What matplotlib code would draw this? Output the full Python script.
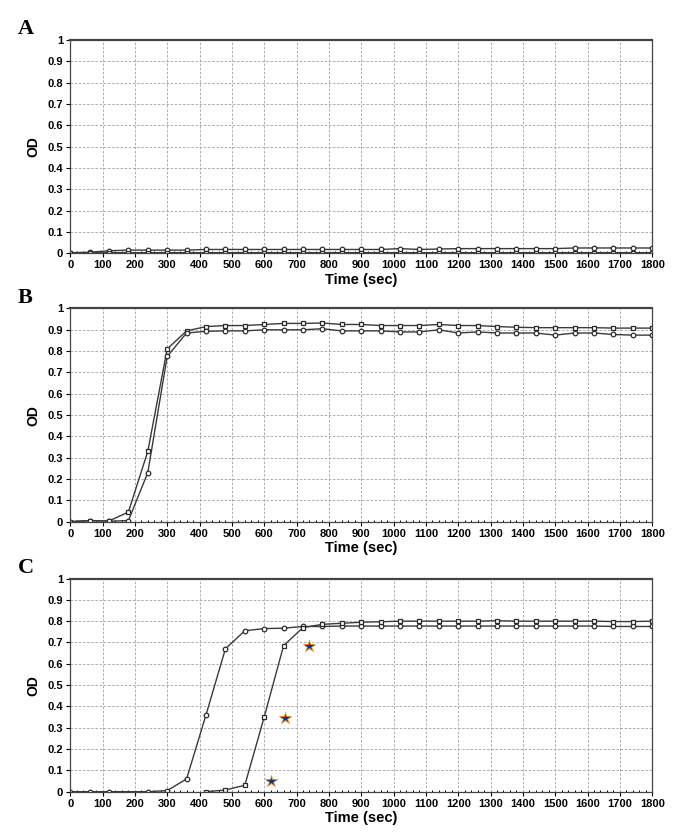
import matplotlib
matplotlib.use("Agg")
import matplotlib.pyplot as plt
from matplotlib.ticker import MultipleLocator
import numpy as np

t = list(range(0, 1801, 60))

# panel A - no growth
a_top = [0.003, 0.005, 0.012, 0.015, 0.015, 0.015, 0.015, 0.018, 0.018, 0.018, 0.018,
         0.018, 0.018, 0.018, 0.018, 0.018, 0.018, 0.022, 0.018, 0.02, 0.022, 0.022,
         0.022, 0.022, 0.022, 0.022, 0.025, 0.025, 0.025, 0.025, 0.025]
a_low = [0.0, 0.002, 0.003, 0.003, 0.003, 0.003, 0.003, 0.003, 0.003, 0.003, 0.003,
         0.003, 0.003, 0.003, 0.003, 0.003, 0.003, 0.003, 0.003, 0.003, 0.003, 0.003,
         0.003, 0.003, 0.003, 0.003, 0.003, 0.003, 0.003, 0.003, 0.003]

# panel B
b_top = [0.0, 0.005, 0.003, 0.045, 0.33, 0.81, 0.895, 0.915, 0.92, 0.92, 0.925, 0.93,
         0.93, 0.932, 0.925, 0.925, 0.92, 0.92, 0.92, 0.925, 0.92, 0.92, 0.915, 0.912,
         0.91, 0.91, 0.91, 0.91, 0.908, 0.908, 0.908]
b_low = [0.0, 0.005, 0.002, 0.005, 0.23, 0.775, 0.885, 0.893, 0.895, 0.895, 0.9, 0.9,
         0.9, 0.905, 0.895, 0.895, 0.895, 0.89, 0.89, 0.9, 0.885, 0.89, 0.885, 0.885,
         0.885, 0.875, 0.885, 0.885, 0.878, 0.875, 0.875]

# panel C
c1_t = [0, 60, 120, 240, 300, 360, 420, 480, 540, 600, 660, 720, 780, 840, 900, 960,
        1020, 1080, 1140, 1200, 1260, 1320, 1380, 1440, 1500, 1560, 1620, 1680, 1740, 1800]
c1 = [0.0, 0.0, 0.0, 0.0, 0.005, 0.06, 0.36, 0.67, 0.755, 0.765, 0.767, 0.775, 0.775,
      0.777, 0.777, 0.777, 0.777, 0.777, 0.777, 0.777, 0.777, 0.777, 0.777, 0.777,
      0.777, 0.777, 0.777, 0.775, 0.775, 0.775]
c2_t = [420, 480, 540, 600, 660, 720, 780, 840, 900, 960, 1020, 1080, 1140, 1200,
        1260, 1320, 1380, 1440, 1500, 1560, 1620, 1680, 1740, 1800]
c2 = [0.0, 0.008, 0.03, 0.35, 0.685, 0.77, 0.785, 0.79, 0.795, 0.797, 0.8, 0.8, 0.8,
      0.8, 0.8, 0.802, 0.8, 0.8, 0.8, 0.8, 0.8, 0.798, 0.798, 0.8]
star_t = [620, 665, 740]
star_y = [0.05, 0.345, 0.685]

xticks = list(range(0, 1801, 100))
yticks = [round(0.1 * i, 1) for i in range(11)]
ylabels = ['0' if v == 0 else ('1' if v == 1 else f'{v:.1f}') for v in yticks]

fig = plt.figure(figsize=(6.88, 8.36), dpi=100)
ax_a = fig.add_axes([0.102, 0.697, 0.846, 0.255])
ax_b = fig.add_axes([0.102, 0.376, 0.846, 0.255])
ax_c = fig.add_axes([0.102, 0.053, 0.846, 0.255])

line_kw = dict(color='#3a3a3a', lw=1.0, markersize=3.3, markerfacecolor='white',
               markeredgecolor='#2a2a2a', markeredgewidth=0.9)

ax_a.plot(t, a_top, marker='o', **line_kw)
ax_a.plot(t, a_low, marker='s', **line_kw)
ax_b.plot(t, b_top, marker='s', **line_kw)
ax_b.plot(t, b_low, marker='o', **line_kw)
ax_c.plot(c1_t, c1, marker='o', **line_kw)
ax_c.plot(c2_t, c2, marker='s', **line_kw)
ax_c.plot(star_t, star_y, ls='none', marker='*', markersize=9,
          markerfacecolor='#1c2f7a', markeredgecolor='#e08a2c', markeredgewidth=0.6)

for ax, letter in zip([ax_a, ax_b, ax_c], ['A', 'B', 'C']):
    ax.set_xlim(0, 1800)
    ax.set_ylim(0, 1)
    ax.set_xticks(xticks)
    ax.set_yticks(yticks)
    ax.set_yticklabels(ylabels)
    ax.xaxis.set_minor_locator(MultipleLocator(20))
    ax.grid(True, color='#a0a0a0', ls=(0, (3, 2)), lw=0.6)
    ax.tick_params(direction='out', length=3, width=0.8, pad=2, labelsize=8)
    ax.tick_params(which='minor', direction='in', length=1.5, width=0.7)
    for lab in ax.get_xticklabels() + ax.get_yticklabels():
        lab.set_fontfamily('Liberation Sans')
        lab.set_fontweight('bold')
    for s in ax.spines.values():
        s.set_color('#444444')
        s.set_linewidth(0.9)
    ax.spines['top'].set_linewidth(1.6)
    ax.set_xlabel('Time (sec)', fontsize=10.5, fontweight='bold', family='Liberation Sans',
                  labelpad=2)
    ax.set_ylabel('OD', fontsize=10, fontweight='bold', family='Liberation Sans', labelpad=5)
    ax.text(-0.09, 1.05, letter, transform=ax.transAxes, fontsize=16,
            fontweight='bold', family='Liberation Serif', va='center', ha='left')

fig.savefig('out.png', dpi=100, facecolor='white')
